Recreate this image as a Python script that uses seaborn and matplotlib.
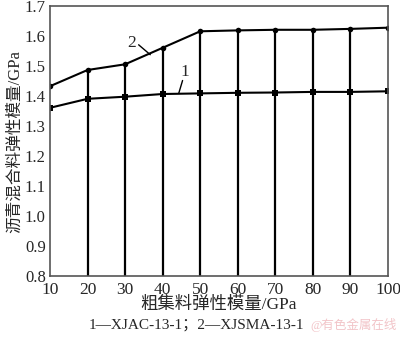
import matplotlib
matplotlib.use("Agg")
import matplotlib.pyplot as plt
import seaborn as sns
import pandas as pd

x_vals = [10, 20, 30, 40, 50, 60, 70, 80, 90, 100]
s1_vals = [1.361, 1.391, 1.398, 1.407, 1.409, 1.411, 1.412, 1.414, 1.414, 1.416]
s2_vals = [1.433, 1.487, 1.506, 1.561, 1.616, 1.619, 1.621, 1.621, 1.624, 1.628]
x_ticks = [10, 20, 30, 40, 50, 60, 70, 80, 90, 100]
y_ticks = [0.8, 0.9, 1.0, 1.1, 1.2, 1.3, 1.4, 1.5, 1.6, 1.7]

sns.set_style("white")
FONT = ['Liberation Serif', 'Noto Sans CJK SC', 'DejaVu Sans']
plt.rcParams['font.family'] = FONT

fig = plt.figure(figsize=(4.0, 3.38), dpi=100)
ax = fig.add_axes([0.125, 0.183, 0.845, 0.799])

df1 = pd.DataFrame({'x': x_vals, 'y': s1_vals})
df2 = pd.DataFrame({'x': x_vals, 'y': s2_vals})
sns.lineplot(data=df1, x='x', y='y', ax=ax, color='black', lw=1.5,
             marker='s', markersize=5, markeredgewidth=0)
sns.lineplot(data=df2, x='x', y='y', ax=ax, color='black', lw=1.5,
             marker='o', markersize=4, markeredgewidth=0)
ax.vlines(x_vals[1:-1], 0.8, s2_vals[1:-1], colors='black', lw=1.6)

ax.set_xlim(10, 100)
ax.set_ylim(0.8, 1.7)
ax.set_xticks(x_ticks)
ax.set_yticks(y_ticks)
ax.set_xticklabels([str(v) for v in x_ticks])
ax.set_yticklabels([f"{v:.1f}" for v in y_ticks])
ax.tick_params(axis='y', direction='in', length=4, width=1, color='#555555',
               labelsize=12, pad=3)
ax.tick_params(axis='x', length=0, labelsize=12.5, pad=4)
for sp in ax.spines.values():
    sp.set_color('#555555')
    sp.set_linewidth(1.2)

ax.set_xlabel('粗集料弹性模量/GPa', fontsize=12.5, labelpad=-1)
ax.set_ylabel('沥青混合料弹性模量/GPa', fontsize=12, labelpad=1)

# curve labels with leader lines
ax.text(31.8, 1.578, '2', fontsize=12.5, ha='center', va='center')
ax.plot([33.6, 36.7], [1.571, 1.538], color='black', lw=1)
ax.text(45.8, 1.48, '1', fontsize=12.5, ha='center', va='center')
ax.plot([45.3, 44.3], [1.452, 1.41], color='black', lw=1)

fig.text(0.49, 0.038, '1—XJAC-13-1；2—XJSMA-13-1', fontsize=11,
         ha='center', va='center')
fig.text(0.885, 0.038, '@有色金属在线', fontsize=9, color='#f2c4c8',
         ha='center', va='center')

fig.savefig('out.png', dpi=100)
